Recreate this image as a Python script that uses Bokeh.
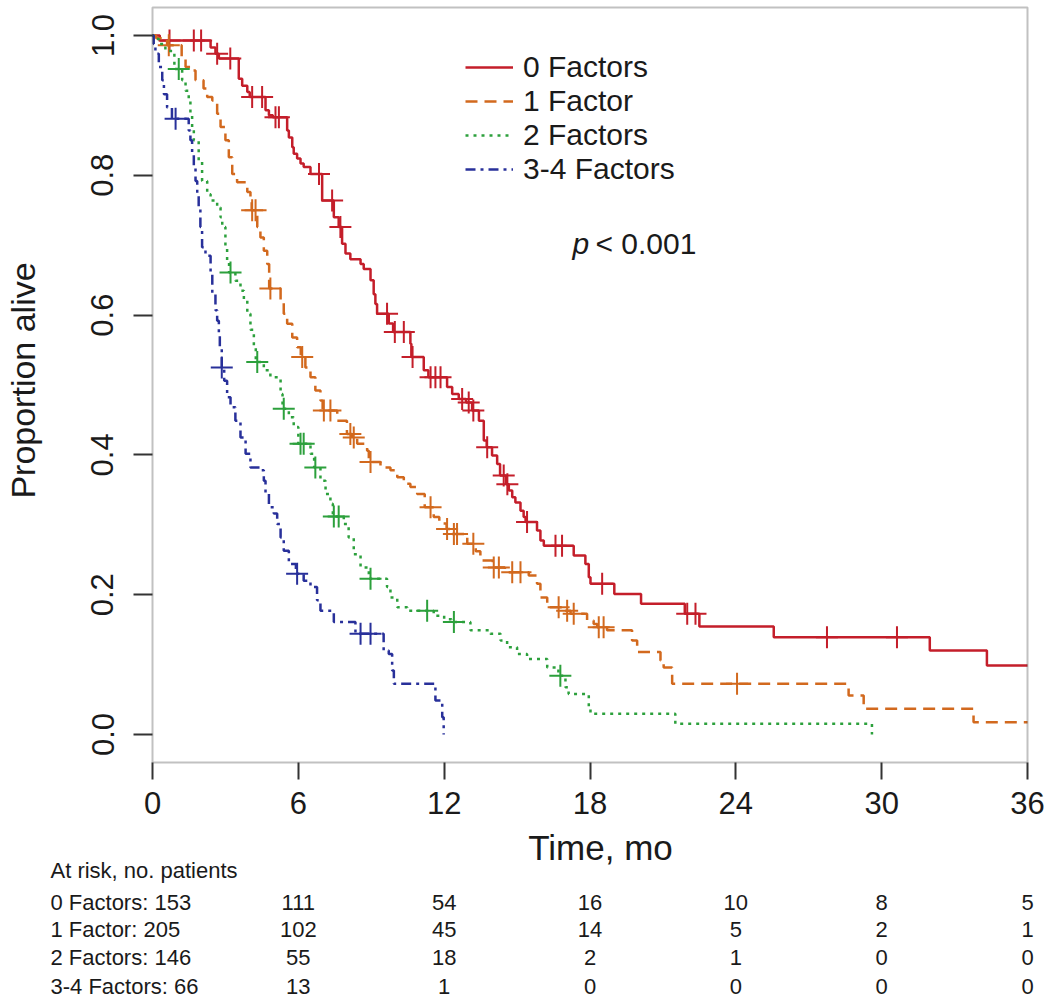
import math
from bokeh.plotting import figure
from bokeh.models import (Range1d, FixedTicker, PrintfTickFormatter, Legend,
                          LegendItem, Label, BoxAnnotation)
from bokeh.core.properties import value
from bokeh.embed import file_html
from bokeh.resources import INLINE

# ---------------- data ----------------
groups = ["0 Factors", "1 Factor", "2 Factors", "3-4 Factors"]

red_t = [0, 0.3, 2.39, 2.59, 2.73, 3.55, 3.69, 3.9, 4.0, 4.65, 4.79, 4.95, 5.54, 5.61,
         5.75, 5.81, 5.95, 6.09, 6.22, 6.5, 6.98, 7.46, 7.66, 7.8, 7.94, 8.14, 8.56, 8.69,
         8.97, 9.1, 9.17, 9.24, 9.72, 9.9, 10.61, 10.65, 11.16, 11.35, 12.12, 12.33, 12.6,
         12.9, 13.15, 13.43, 13.63, 13.75, 13.97, 14.18, 14.3, 14.55, 14.66, 14.8, 14.93,
         15.14, 15.27, 15.35, 15.82, 15.96, 16.1, 17.33, 17.81, 17.95, 18.02, 19.0, 20.1,
         21.9, 22.5, 25.56, 31.98, 34.33]
red_s = [1.0, 0.993, 0.983, 0.974, 0.967, 0.938, 0.928, 0.919, 0.912, 0.893, 0.886, 0.883,
         0.864, 0.854, 0.840, 0.831, 0.824, 0.817, 0.812, 0.802, 0.764, 0.740, 0.726, 0.702,
         0.688, 0.680, 0.673, 0.666, 0.650, 0.630, 0.616, 0.602, 0.588, 0.576, 0.559, 0.540,
         0.521, 0.511, 0.497, 0.487, 0.480, 0.475, 0.4635, 0.449, 0.4206, 0.411, 0.399, 0.387,
         0.3705, 0.358, 0.349, 0.3395, 0.332, 0.320, 0.311, 0.304, 0.292, 0.2775, 0.270,
         0.256, 0.244, 0.225, 0.2155, 0.201, 0.187, 0.1727, 0.1545, 0.139, 0.120, 0.0987]
red_cens_t = [0.7, 1.7, 2.0, 2.66, 3.2, 4.1, 4.51, 5.06, 5.2, 6.85, 7.39, 7.73, 9.65, 9.97,
              10.34, 10.7, 11.44, 11.64, 11.85, 12.74, 13.01, 13.2, 13.77, 14.45, 14.6, 15.41,
              16.58, 16.85, 18.5, 22.0, 22.34, 27.75, 30.63]
red_cens_s = [0.993, 0.993, 0.993, 0.974, 0.967, 0.912, 0.912, 0.883, 0.883, 0.802, 0.764,
              0.726, 0.602, 0.576, 0.576, 0.540, 0.511, 0.511, 0.511, 0.480, 0.475, 0.4635,
              0.411, 0.3705, 0.358, 0.304, 0.270, 0.270, 0.2155, 0.1727, 0.1727, 0.139, 0.139]

orange_t = [0, 0.15, 0.6, 1.2, 1.36, 1.56, 1.77, 2.1, 2.25, 2.46, 2.66, 2.8, 3.0, 3.14, 3.28,
            3.48, 3.9, 4.03, 4.08, 4.31, 4.44, 4.58, 4.72, 4.8, 5.27, 5.4, 5.54, 5.75, 5.95,
            6.1, 6.29, 6.5, 6.7, 6.91, 7.0, 7.6, 8.0, 8.2, 8.42, 8.83, 8.9, 9.38, 9.79, 10.07,
            10.34, 10.61, 10.89, 11.2, 11.57, 11.8, 12.1, 12.3, 12.95, 13.3, 13.49, 14.0,
            14.5, 15.48, 15.82, 15.96, 16.24, 16.9, 17.2, 17.88, 18.15, 18.3, 18.7, 19.73,
            19.94, 20.9, 21.03, 21.38, 28.64, 29.26, 33.78]
orange_s = [1.0, 0.996, 0.986, 0.97, 0.955, 0.95, 0.936, 0.924, 0.912, 0.907, 0.888, 0.869,
            0.850, 0.826, 0.802, 0.790, 0.776, 0.764, 0.75, 0.726, 0.711, 0.692, 0.673, 0.638,
            0.621, 0.602, 0.5875, 0.568, 0.554, 0.540, 0.525, 0.511, 0.492, 0.478, 0.4635,
            0.449, 0.430, 0.425, 0.416, 0.406, 0.39, 0.382, 0.378, 0.368, 0.3587, 0.354, 0.344,
            0.325, 0.311, 0.302, 0.294, 0.287, 0.273, 0.262, 0.249, 0.239, 0.232, 0.2275,
            0.2155, 0.196, 0.182, 0.177, 0.1727, 0.163, 0.158, 0.1535, 0.149, 0.1345, 0.118,
            0.106, 0.096, 0.0725, 0.0558, 0.0367, 0.0176]
orange_cens_t = [0.67, 4.1, 4.24, 4.85, 6.16, 7.05, 7.32, 8.14, 8.28, 8.97, 11.44, 12.12,
                 12.4, 12.53, 13.2, 14.04, 14.25, 14.8, 15.14, 16.71, 17.06, 17.33, 18.36,
                 18.56, 24.05]
orange_cens_s = [0.986, 0.75, 0.75, 0.638, 0.540, 0.4635, 0.4635, 0.430, 0.425, 0.39, 0.325,
                 0.294, 0.287, 0.287, 0.273, 0.239, 0.239, 0.232, 0.232, 0.182, 0.177, 0.1727,
                 0.1535, 0.1535, 0.0725]

green_t = [0, 0.05, 0.26, 0.53, 0.9, 1.22, 1.36, 1.49, 1.56, 1.63, 1.7, 1.9, 2.04, 2.25, 2.39,
           2.66, 2.8, 2.87, 3.0, 3.07, 3.15, 3.41, 3.62, 3.76, 3.9, 4.03, 4.17, 4.25, 4.58,
           4.85, 5.27, 5.35, 5.61, 5.81, 6.0, 6.5, 6.65, 6.91, 7.12, 7.32, 7.42, 7.87, 8.07,
           8.28, 8.56, 8.9, 9.65, 9.79, 10.07, 10.48, 11.57, 12.0, 12.3, 13.08, 13.9, 14.32,
           14.59, 15.0, 15.41, 16.24, 16.7, 16.99, 17.12, 17.95, 18.02, 21.51, 29.6]
green_s = [1.0, 0.995, 0.988, 0.978, 0.952, 0.936, 0.921, 0.907, 0.888, 0.869, 0.850, 0.821,
           0.792, 0.773, 0.764, 0.754, 0.740, 0.726, 0.697, 0.678, 0.661, 0.649, 0.635, 0.621,
           0.602, 0.579, 0.554, 0.533, 0.521, 0.511, 0.487, 0.466, 0.454, 0.440, 0.416, 0.4016,
           0.382, 0.363, 0.344, 0.330, 0.312, 0.301, 0.282, 0.258, 0.239, 0.2227, 0.211, 0.196,
           0.182, 0.177, 0.170, 0.165, 0.161, 0.149, 0.144, 0.1345, 0.125, 0.115, 0.108, 0.096,
           0.084, 0.0677, 0.058, 0.039, 0.0296, 0.0153, 0.0]
green_cens_t = [1.08, 3.21, 4.31, 5.4, 6.09, 6.22, 6.7, 7.46, 7.66, 8.97, 11.3, 12.4, 16.78]
green_cens_s = [0.952, 0.661, 0.533, 0.466, 0.416, 0.416, 0.382, 0.312, 0.312, 0.2227, 0.177,
                0.161, 0.084]

blue_t = [0, 0.05, 0.12, 0.26, 0.4, 0.47, 0.6, 0.8, 1.49, 1.56, 1.63, 1.7, 1.77, 1.84, 1.9,
          1.97, 2.04, 2.18, 2.39, 2.46, 2.59, 2.66, 2.73, 2.77, 2.85, 2.95, 3.07, 3.21, 3.41,
          3.62, 3.83, 4.03, 4.44, 4.58, 4.65, 4.79, 4.99, 5.13, 5.27, 5.4, 5.61, 5.9, 6.22,
          6.5, 6.77, 6.91, 7.46, 8.35, 9.51, 9.72, 9.86, 9.93, 11.64, 11.92, 11.98]
blue_s = [1.0, 0.988, 0.974, 0.955, 0.936, 0.916, 0.897, 0.881, 0.864, 0.850, 0.831, 0.812,
          0.792, 0.773, 0.754, 0.726, 0.697, 0.685, 0.659, 0.630, 0.607, 0.592, 0.573, 0.554,
          0.525, 0.506, 0.4825, 0.468, 0.449, 0.425, 0.4016, 0.382, 0.378, 0.363, 0.344,
          0.325, 0.316, 0.301, 0.282, 0.263, 0.244, 0.230, 0.220, 0.211, 0.192, 0.177, 0.161,
          0.144, 0.120, 0.115, 0.0916, 0.0725, 0.0486, 0.0248, 0.0]
blue_cens_t = [0.95, 2.85, 5.95, 8.56, 8.97]
blue_cens_s = [0.881, 0.525, 0.230, 0.144, 0.144]

x_ticks = [0, 6, 12, 18, 24, 30, 36]
y_ticks = [0.0, 0.2, 0.4, 0.6, 0.8, 1.0]

risk_labels = ["0 Factors: 153", "1 Factor: 205", "2 Factors: 146", "3-4 Factors: 66"]
risk_times = [6, 12, 18, 24, 30, 36]
risk_0 = [111, 54, 16, 10, 8, 5]
risk_1 = [102, 45, 14, 5, 2, 1]
risk_2 = [55, 18, 2, 1, 0, 0]
risk_3 = [13, 1, 0, 0, 0, 0]

# ---------------- layout (pixel geometry of the page) ----------------
FONT = "Liberation Sans"
TXT = "#1a1a1a"
AX = "#333333"
colors = ["#C41E2A", "#D2691E", "#2CA03C", "#28309A"]
dashes = ["solid", "12 7", "3 5", "10 5 3 5"]

W, H = 1050, 1000
BOX_L, BOX_R = 152, 1027      # pixel x of month 0 and month 36
Y1_PX, Y0_PX = 35, 734        # pixel y of proportion 1.0 and 0.0
BOX_T, BOX_B = 7, 762         # pixel y of the plot box edges

sx = (BOX_R - BOX_L) / 36.0
sy = (Y0_PX - Y1_PX) / 1.0


def dx(px):
    return (px - BOX_L) / sx


def dy(py):
    return (Y0_PX - py) / sy


p = figure(width=W, height=H, x_range=Range1d(dx(0), dx(W)), y_range=Range1d(dy(H), dy(0)),
           output_backend="svg", toolbar_location=None, min_border=0)
p.grid.visible = False
p.outline_line_color = None
p.background_fill_color = "white"
p.border_fill_color = "white"

# plot box
p.add_layout(BoxAnnotation(left=0, right=36, bottom=dy(BOX_B), top=dy(BOX_T),
                           fill_alpha=0, line_color=AX, line_width=2))

for ax in (p.xaxis[0], p.yaxis[0]):
    ax.axis_line_color = None
    ax.major_tick_in = 0
    ax.minor_tick_out = 0
    ax.minor_tick_in = 0
    ax.major_tick_line_width = 2
    ax.major_tick_line_color = AX
    ax.major_label_text_font = FONT
    ax.major_label_text_font_size = "31px"
    ax.major_label_text_color = TXT

p.xaxis.fixed_location = dy(BOX_B)
p.xaxis.ticker = FixedTicker(ticks=x_ticks)
p.xaxis.major_tick_out = 17
p.xaxis.major_label_standoff = 12
p.yaxis.fixed_location = 0
p.yaxis.ticker = FixedTicker(ticks=y_ticks)
p.yaxis.formatter = PrintfTickFormatter(format="%.1f")
p.yaxis.major_tick_out = 19
p.yaxis.major_label_orientation = "vertical"
p.yaxis.major_label_standoff = 20

series = [
    (red_t, red_s, red_cens_t, red_cens_s, True),
    (orange_t, orange_s, orange_cens_t, orange_cens_s, True),
    (green_t, green_s, green_cens_t, green_cens_s, False),
    (blue_t, blue_s, blue_cens_t, blue_cens_s, False),
]
items = []
for i, (t, s, ct, cs, extend) in enumerate(series):
    xs = list(t)
    ys = list(s)
    if extend:
        xs.append(36.0)
        ys.append(s[-1])
    r = p.step(xs, ys, mode="after", line_color=colors[i], line_width=2.5,
               line_dash=dashes[i])
    p.scatter(ct, cs, marker="cross", size=22, line_color=colors[i], line_width=2)
    items.append(LegendItem(label=groups[i], renderers=[r]))

# legend: bottom-left corner given in pixels from the frame's bottom-left
legend = Legend(items=items, location=(465, H - 186), orientation="vertical",
                glyph_width=48, glyph_height=34, label_height=34, label_standoff=10,
                spacing=0, padding=0, margin=0, border_line_color=None,
                background_fill_alpha=0, label_text_font=FONT,
                label_text_font_size="30px", label_text_color=TXT)
p.add_layout(legend)

# p-value
p.text(x=[dx(572)], y=[dy(243)], text=["p"], text_font=value(FONT), text_font_size="30px",
       text_font_style="italic", text_color=TXT, text_baseline="alphabetic")
p.text(x=[dx(595)], y=[dy(243)], text=["< 0.001"], text_font=value(FONT),
       text_font_size="30px", text_color=TXT, text_baseline="alphabetic")

# axis titles
p.text(x=[dx(600)], y=[dy(847)], text=["Time, mo"], text_font=value(FONT),
       text_font_size="35px", text_color=TXT, text_align="center", text_baseline="middle")
p.text(x=[dx(22)], y=[dy(380)], text=["Proportion alive"], text_font=value(FONT),
       text_font_size="34px", text_color=TXT, text_align="center", text_baseline="middle",
       angle=math.pi / 2)

# at-risk table
row_py = [902, 929, 957, 986]
p.text(x=[dx(50)], y=[dy(870)], text=["At risk, no. patients"], text_font=value(FONT),
       text_font_size="22px", text_color=TXT, text_align="left", text_baseline="middle")
p.text(x=[dx(50)] * 4, y=[dy(v) for v in row_py], text=risk_labels,
       text_font=value(FONT), text_font_size="22px", text_color=TXT, text_align="left",
       text_baseline="middle")
cx, cy, ctext = [], [], []
for k, vals in enumerate([risk_0, risk_1, risk_2, risk_3]):
    for tx, v in zip(risk_times, vals):
        cx.append(tx)
        cy.append(dy(row_py[k]))
        ctext.append(str(v))
p.text(x=cx, y=cy, text=ctext, text_font=value(FONT), text_font_size="22px",
       text_color=TXT, text_align="center", text_baseline="middle")

open("out.html", "w").write(file_html(p, INLINE))
